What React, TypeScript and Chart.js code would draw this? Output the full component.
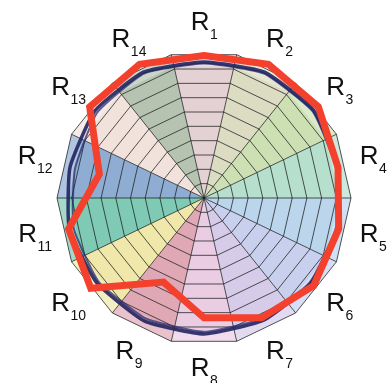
import React, { useEffect, useRef } from 'react';
import { Chart, registerables } from 'chart.js';

Chart.register(...registerables);

// ---- data ----
const labelStem = 'R';
const labelSubscripts = ['1', '2', '3', '4', '5', '6', '7', '8', '9', '10', '11', '12', '13', '14'];
const categories = labelSubscripts.map((s) => labelStem + s);

const redValues = [9.7, 10.1, 9.95, 9.35, 9.4, 9.55, 9.05, 8.15, 6.35, 9.85, 9.45, 7.3, 9.95, 10.1];
const navyOuterValues = [9.25, 9.5, 9.55, 9.3, 9.3, 9.3, 9.25, 9.25, 9.3, 9.3, 9.4, 9.35, 9.5, 9.5];
const navyInnerValues = [9.15, 9.4, 9.45, 9.2, 9.2, 9.2, 9.1, 9.1, 9.1, 9.15, 9.1, 9.0, 9.3, 9.4];

const wedgeColors = [
  '#e4d1d4', // R1
  '#dcdcc2', // R2
  '#cde0b4', // R3
  '#b6e0cd', // R4
  '#bad5ec', // R5
  '#c8d0ee', // R6
  '#d7cbea', // R7
  '#eacde3', // R8
  '#e0a8b5', // R9
  '#efe8aa', // R10
  '#7ecab5', // R11
  '#8fadd2', // R12
  '#f2e2dc', // R13
  '#b5c3b0', // R14
];

const scaleMax = 10;
const scaleStep = 1;

const FONT = "'Liberation Sans', Arial, Helvetica, sans-serif";

const wedgePlugin = {
  id: 'wedges',
  beforeDraw(chart: any) {
    const g = chart.scales.grid;
    if (!g) return;
    const ctx = chart.ctx;
    const n = categories.length;
    const R = g.getDistanceFromCenterForValue(scaleMax);
    const cx = g.xCenter;
    const cy = g.yCenter;
    ctx.save();
    for (let i = 0; i < n; i++) {
      const a = g.getPointPosition((i - 1 + n) % n, R);
      const b = g.getPointPosition(i, R);
      ctx.beginPath();
      ctx.moveTo(cx, cy);
      ctx.lineTo(a.x, a.y);
      ctx.lineTo(b.x, b.y);
      ctx.closePath();
      ctx.fillStyle = wedgeColors[i];
      ctx.fill();
    }
    // lighter outer band (dome rim)
    const rInner = g.getDistanceFromCenterForValue(9.2);
    ctx.beginPath();
    for (let j = 0; j < n; j++) {
      const p = g.getPointPosition(j, R);
      if (j === 0) ctx.moveTo(p.x, p.y);
      else ctx.lineTo(p.x, p.y);
    }
    ctx.closePath();
    for (let j = n - 1; j >= 0; j--) {
      const p = g.getPointPosition(j, rInner);
      if (j === n - 1) ctx.moveTo(p.x, p.y);
      else ctx.lineTo(p.x, p.y);
    }
    ctx.closePath();
    ctx.fillStyle = 'rgba(255,255,255,0.3)';
    ctx.fill('evenodd');
    ctx.restore();
  },
};

const labelPlugin = {
  id: 'subscriptLabels',
  afterDraw(chart: any) {
    const s = chart.scales.r;
    if (!s) return;
    const ctx = chart.ctx;
    const dist = s.drawingArea * 1.18;
    ctx.save();
    ctx.fillStyle = '#111';
    ctx.textBaseline = 'alphabetic';
    ctx.textAlign = 'left';
    categories.forEach((_, i) => {
      const p = s.getPointPosition(i, dist);
      ctx.font = `26px ${FONT}`;
      const wMain = ctx.measureText(labelStem).width;
      ctx.font = `14px ${FONT}`;
      const wSub = ctx.measureText(labelSubscripts[i]).width;
      const x0 = p.x - (wMain + wSub) / 2;
      const base = p.y + 5;
      ctx.font = `26px ${FONT}`;
      ctx.fillText(labelStem, x0, base);
      ctx.font = `14px ${FONT}`;
      ctx.fillText(labelSubscripts[i], x0 + wMain + 0.5, base + 9);
    });
    ctx.restore();
  },
};

export default function App() {
  const ref = useRef<HTMLCanvasElement | null>(null);
  useEffect(() => {
    if (!ref.current) return;
    const chart = new Chart(ref.current, {
      type: 'radar',
      data: {
        labels: categories,
        datasets: [
          {
            label: 'red',
            data: redValues,
            borderColor: '#f4412d',
            borderWidth: 7,
            pointRadius: 0,
            fill: false,
            tension: 0,
            borderJoinStyle: 'miter',
            rAxisID: 'r',
          } as any,
          {
            label: 'navy outer',
            data: navyOuterValues,
            borderColor: 'rgba(34,36,96,0.9)',
            borderWidth: 3.5,
            pointRadius: 0,
            fill: false,
            tension: 0.15,
            rAxisID: 'r',
          } as any,
          {
            label: 'navy inner',
            data: navyInnerValues,
            borderColor: 'rgba(40,44,110,0.75)',
            borderWidth: 2,
            pointRadius: 0,
            fill: false,
            tension: 0.15,
            rAxisID: 'r',
          } as any,
        ],
      },
      options: {
        animation: false,
        responsive: false,
        maintainAspectRatio: false,
        devicePixelRatio: 1,
        layout: { padding: { left: 57, top: 51, right: 36, bottom: 38 } },
        plugins: { legend: { display: false }, tooltip: { enabled: false } },
        scales: {
          r: {
            type: 'radialLinear',
            axis: 'r',
            min: 0,
            max: scaleMax,
            startAngle: 0,
            ticks: { display: false, stepSize: scaleStep },
            grid: { display: false },
            angleLines: { display: false },
            pointLabels: { display: false },
          },
          grid: {
            type: 'radialLinear',
            axis: 'r',
            min: 0,
            max: scaleMax,
            startAngle: 360 / (categories.length * 2),
            ticks: { display: false, stepSize: scaleStep },
            grid: { display: true, color: 'rgba(25,30,30,0.75)', lineWidth: 1 },
            angleLines: { display: true, color: 'rgba(25,30,30,0.75)', lineWidth: 1 },
            pointLabels: { display: false },
          },
        } as any,
      },
      plugins: [wedgePlugin, labelPlugin],
    });
    return () => chart.destroy();
  }, []);
  return (
    <div style={{ position: 'fixed', left: 0, top: 0, width: 387, height: 383, background: '#fff' }}>
      <canvas ref={ref} width={387} height={383} style={{ width: 387, height: 383 }} />
    </div>
  );
}
